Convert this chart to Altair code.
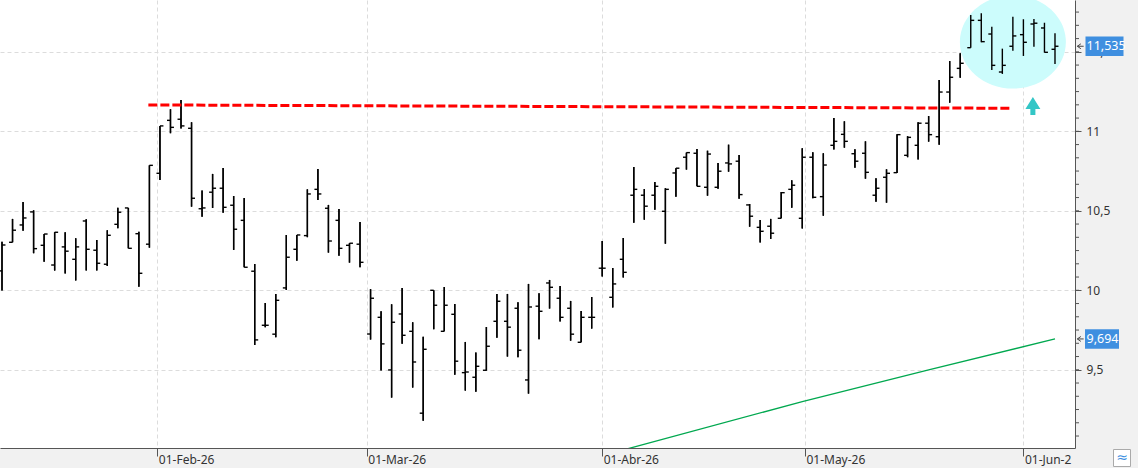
import altair as alt
import pandas as pd

# ---- OHLC values (one bar per trading day) ----
opens = [10.122, 10.302, 10.411, 10.493, 10.283, 10.159, 10.273, 10.195, 10.436, 10.252,
         10.164, 10.415, 10.518, 10.356, 10.290, 10.736, 11.069, 11.076, 11.019, 10.513,
         10.617, 10.642, 10.535, 10.440, 10.120, 9.780, 9.724, 10.015, 10.258, 10.344,
         10.635, 10.516, 10.440, 10.283, 10.290, 9.725, 9.830, 9.499, 9.851, 9.742,
         9.227, 10.000, 9.742, 9.849, 9.482, 9.453, 9.497, 9.805, 9.805, 9.887,
         9.436, 9.900, 10.046, 9.950, 9.887, 9.673, 9.830, 10.139, 9.956, 10.195,
         10.598, 10.598, 10.598, 10.497, 10.738, 10.837, 10.862, 10.648, 10.648, 10.801,
         10.812, 10.537, 10.396, 10.403, 10.453, 10.635, 10.453, 10.837, 10.589, 10.912,
         10.981, 10.859, 10.862, 10.598, 10.711, 10.740, 10.849, 10.912, 11.051, 10.966,
         11.247, 11.396, 11.526, 11.698, 11.612, 11.373, 11.535, 11.608, 11.675, 11.650,
         11.516]
highs = [10.306, 10.449, 10.556, 10.503, 10.354, 10.365, 10.365, 10.327, 10.447, 10.317,
         10.378, 10.520, 10.518, 10.369, 10.786, 11.034, 11.139, 11.197, 11.057, 10.627,
         10.732, 10.769, 10.593, 10.581, 10.166, 9.920, 9.977, 10.348, 10.348, 10.635,
         10.763, 10.537, 10.512, 10.296, 10.430, 10.007, 9.868, 9.912, 10.015, 9.799,
         9.707, 10.000, 10.021, 9.914, 9.675, 9.608, 9.769, 9.977, 9.977, 9.925,
         10.040, 9.981, 10.065, 10.027, 9.933, 9.870, 9.958, 10.310, 10.140, 10.329,
         10.776, 10.637, 10.681, 10.642, 10.768, 10.866, 10.889, 10.878, 10.801, 10.916,
         10.851, 10.543, 10.442, 10.449, 10.619, 10.692, 10.893, 10.868, 10.862, 11.084,
         11.063, 10.887, 10.937, 10.705, 10.761, 10.981, 10.969, 11.057, 11.096, 11.323,
         11.442, 11.491, 11.732, 11.742, 11.658, 11.520, 11.721, 11.705, 11.707, 11.683,
         11.617]
lows = [9.998, 10.302, 10.375, 10.233, 10.180, 10.124, 10.105, 10.061, 10.124, 10.124,
        10.153, 10.390, 10.264, 10.023, 10.268, 10.694, 10.988, 11.017, 10.526, 10.463,
        10.518, 10.488, 10.254, 10.145, 9.656, 9.768, 9.705, 10.002, 10.186, 10.334,
        10.568, 10.237, 10.218, 10.174, 10.145, 9.690, 9.495, 9.325, 9.664, 9.388,
        9.180, 9.755, 9.742, 9.469, 9.369, 9.362, 9.495, 9.702, 9.583, 9.579,
        9.350, 9.692, 9.885, 9.803, 9.683, 9.673, 9.759, 10.086, 9.891, 10.080,
        10.425, 10.444, 10.507, 10.293, 10.589, 10.759, 10.654, 10.595, 10.639, 10.746,
        10.576, 10.400, 10.300, 10.323, 10.453, 10.520, 10.388, 10.579, 10.469, 10.885,
        10.897, 10.771, 10.702, 10.557, 10.551, 10.738, 10.837, 10.822, 10.935, 10.916,
        11.180, 11.337, 11.526, 11.560, 11.386, 11.361, 11.507, 11.474, 11.532, 11.495,
        11.424]
closes = [10.285, 10.378, 10.455, 10.262, 10.354, 10.365, 10.246, 10.273, 10.258, 10.170,
          10.346, 10.491, 10.264, 10.107, 10.786, 11.034, 11.025, 11.034, 10.579, 10.518,
          10.642, 10.522, 10.384, 10.145, 9.688, 9.780, 9.937, 10.208, 10.348, 10.606,
          10.606, 10.310, 10.264, 10.296, 10.176, 9.950, 9.663, 9.799, 9.717, 9.549,
          9.629, 9.906, 9.906, 9.554, 9.486, 9.522, 9.648, 9.931, 9.768, 9.623,
          9.895, 9.868, 10.019, 9.830, 9.724, 9.830, 9.830, 10.139, 10.040, 10.113,
          10.635, 10.529, 10.654, 10.635, 10.768, 10.866, 10.654, 10.857, 10.749, 10.795,
          10.602, 10.466, 10.371, 10.359, 10.614, 10.661, 10.837, 10.585, 10.788, 10.937,
          10.937, 10.812, 10.742, 10.642, 10.736, 10.979, 10.962, 11.051, 10.979, 11.247,
          11.340, 11.428, 11.698, 11.564, 11.415, 11.415, 11.600, 11.560, 11.680, 11.497,
          11.535]

# month separators (position in trading-day index) and their labels
month_pos = [14.75, 34.65, 57.0, 76.25, 97.0]
month_labels = ["01-Feb-26", "01-Mar-26", "01-Abr-26", "01-May-26", "01-Jun-2"]

# long moving average (green)
ma_idx = [57, 76, 88, 100]
ma_val = [8.96, 9.30, 9.50, 9.694]

# resistance line (red dashed)
res_idx = [13.9, 95.7]
res_val = [11.166, 11.145]

# annotations: highlight ellipse and arrow
ellipse_idx, ellipse_val = [96.0], [11.562]
arrow_idx, arrow_val = [97.9], [11.159]

# last values shown on the price axis
last_vals = [11.535, 9.694]

y_major = [9.5, 10.0, 10.5, 11.0, 11.5]
y_minor = [9 + k / 12 for k in range(1, 34)]

X_DOM = [-0.19, 101.9]
Y_DOM = [9.008, 11.826]
FONT = "Noto Sans"

xs = alt.Scale(domain=X_DOM, nice=False, zero=False)
ys = alt.Scale(domain=Y_DOM, nice=False, zero=False)

bars = pd.DataFrame({"i": list(range(len(opens))), "o": opens, "h": highs,
                     "l": lows, "c": closes})

label_expr = " : ".join(
    f"datum.value == {p} ? '{t}'" for p, t in zip(month_pos, month_labels)) + " : ''"

x_axis = alt.Axis(values=month_pos, labelExpr=label_expr, grid=True,
                  gridColor="#dcdcdc", gridDash=[4, 3], gridWidth=1,
                  domainColor="#555555", tickColor="#555555", tickSize=8,
                  labelAlign="left", labelBaseline="top", labelPadding=-2,
                  labelOffset=1, labelFontSize=12, labelFont=FONT,
                  labelColor="#333333", title=None, labelOverlap=False,
                  labelBound=False, labelFlush=False)
y_axis = alt.Axis(orient="right", values=y_major,
                  labelExpr="replace(format(datum.value, '~g'), '.', ',')",
                  grid=True, gridColor="#dcdcdc", gridDash=[4, 3], gridWidth=1,
                  domainColor="#555555", tickColor="#555555", tickSize=6,
                  labelPadding=5, labelAlign="left", labelFontSize=12,
                  labelFont=FONT, labelColor="#333333", title=None,
                  labelFlush=False, labelOverlap=False)


def X(field):
    return alt.X(field, scale=xs, title=None)


def Y(field):
    return alt.Y(field, scale=ys, title=None)


BW = 1.4

# base layer carrying the axes
hl = alt.Chart(bars).mark_rule(color="black", strokeWidth=BW).encode(
    x=alt.X("i:Q", scale=xs, axis=x_axis),
    y=alt.Y("l:Q", scale=ys, axis=y_axis),
    y2="h:Q",
)

ellipse = alt.Chart(pd.DataFrame({"i": ellipse_idx, "v": ellipse_val})).mark_point(
    shape="M-1,0 A1,0.88 0 1,0 1,0 A1,0.88 0 1,0 -1,0 Z",
    size=106 * 106, filled=True, fill="#ccfcfc", opacity=1, strokeWidth=0, clip=True,
).encode(x=X("i:Q"), y=Y("v:Q"))

open_tick = alt.Chart(bars).transform_calculate(x0="datum.i - 0.33").mark_rule(
    color="black", strokeWidth=BW).encode(x=X("x0:Q"), x2="i:Q", y=Y("o:Q"))
close_tick = alt.Chart(bars).transform_calculate(x1="datum.i + 0.33").mark_rule(
    color="black", strokeWidth=BW).encode(x=X("i:Q"), x2="x1:Q", y=Y("c:Q"))

ma = alt.Chart(pd.DataFrame({"i": ma_idx, "v": ma_val})).mark_line(
    color="#00a84f", strokeWidth=1.3, clip=True).encode(x=X("i:Q"), y=Y("v:Q"))

res = alt.Chart(pd.DataFrame({"i": res_idx, "v": res_val})).mark_line(
    color="#ff0000", strokeWidth=3, strokeDash=[9, 3]).encode(x=X("i:Q"), y=Y("v:Q"))

arrow = alt.Chart(pd.DataFrame({"i": arrow_idx, "v": arrow_val})).mark_point(
    shape="M0,-1 L0.83,0.33 L0.28,0.33 L0.28,1 L-0.28,1 L-0.28,0.33 L-0.83,0.33 Z",
    size=18 * 18, filled=True, fill="#33c6c6", opacity=1, strokeWidth=0,
).encode(x=X("i:Q"), y=Y("v:Q"))

minor = alt.Chart(pd.DataFrame({"v": y_minor})).mark_rule(
    color="#555555", strokeWidth=1).encode(
    x=alt.value(1075), x2=alt.value(1079), y=Y("v:Q"))

tags = pd.DataFrame({
    "v": last_vals,
    "t": [f"{v:.3f}".replace(".", ",") for v in last_vals],
    "shp": ["M-1,-0.514 L1,-0.514 L1,0.514 L-1,0.514 Z",
            "M-1,-0.576 L1,-0.576 L1,0.576 L-1,0.576 Z"],
    "sz": [38 * 38, 34 * 34],
    "cx": [1104.5, 1102.0],
})
tag_box = alt.Chart(tags).mark_point(filled=True, fill="#3f8fe0", opacity=1,
                                     strokeWidth=0).encode(
    x=alt.X("cx:Q", scale=None),
    y=Y("v:Q"),
    shape=alt.Shape("shp:N", scale=None, legend=None),
    size=alt.Size("sz:Q", scale=None, legend=None),
)
tag_text = alt.Chart(tags).mark_text(align="left", baseline="middle",
                                     color="white", fontSize=12.5, font=FONT).encode(
    x=alt.value(1086.5), y=Y("v:Q"), text="t:N")
tag_arrow = alt.Chart(tags).mark_point(
    shape="M0.1,-0.7 L-0.9,0 L0.1,0.7 M-0.9,0 L0.9,0",
    size=49, filled=False, stroke="#444444", strokeWidth=1, opacity=1,
).encode(x=alt.value(1080.5), y=Y("v:Q"))

icon = alt.Chart(pd.DataFrame({"k": [0]})).mark_point(
    shape="square", size=17 * 17, filled=True, fill="white", stroke="#aaaaaa",
    strokeWidth=1, opacity=1).encode(x=alt.value(1122), y=alt.value(458))
icon_txt = alt.Chart(pd.DataFrame({"k": [0]})).mark_text(
    text="≈", color="#3f8fe0", fontSize=14, font="DejaVu Sans").encode(
    x=alt.value(1122), y=alt.value(458))

chart = alt.layer(
    hl, ellipse, hl, open_tick, close_tick, ma, res, arrow, minor,
    tag_box, tag_text, tag_arrow, icon, icon_txt,
).properties(
    width=1075, height=448, background="#f1f1f1",
    padding={"left": 0, "top": 0, "right": 63, "bottom": 20},
    autosize=alt.AutoSizeParams(type="none"),
).configure_view(stroke=None, fill="white")

chart.save("out.html", embed_options={"renderer": "svg", "actions": False})
